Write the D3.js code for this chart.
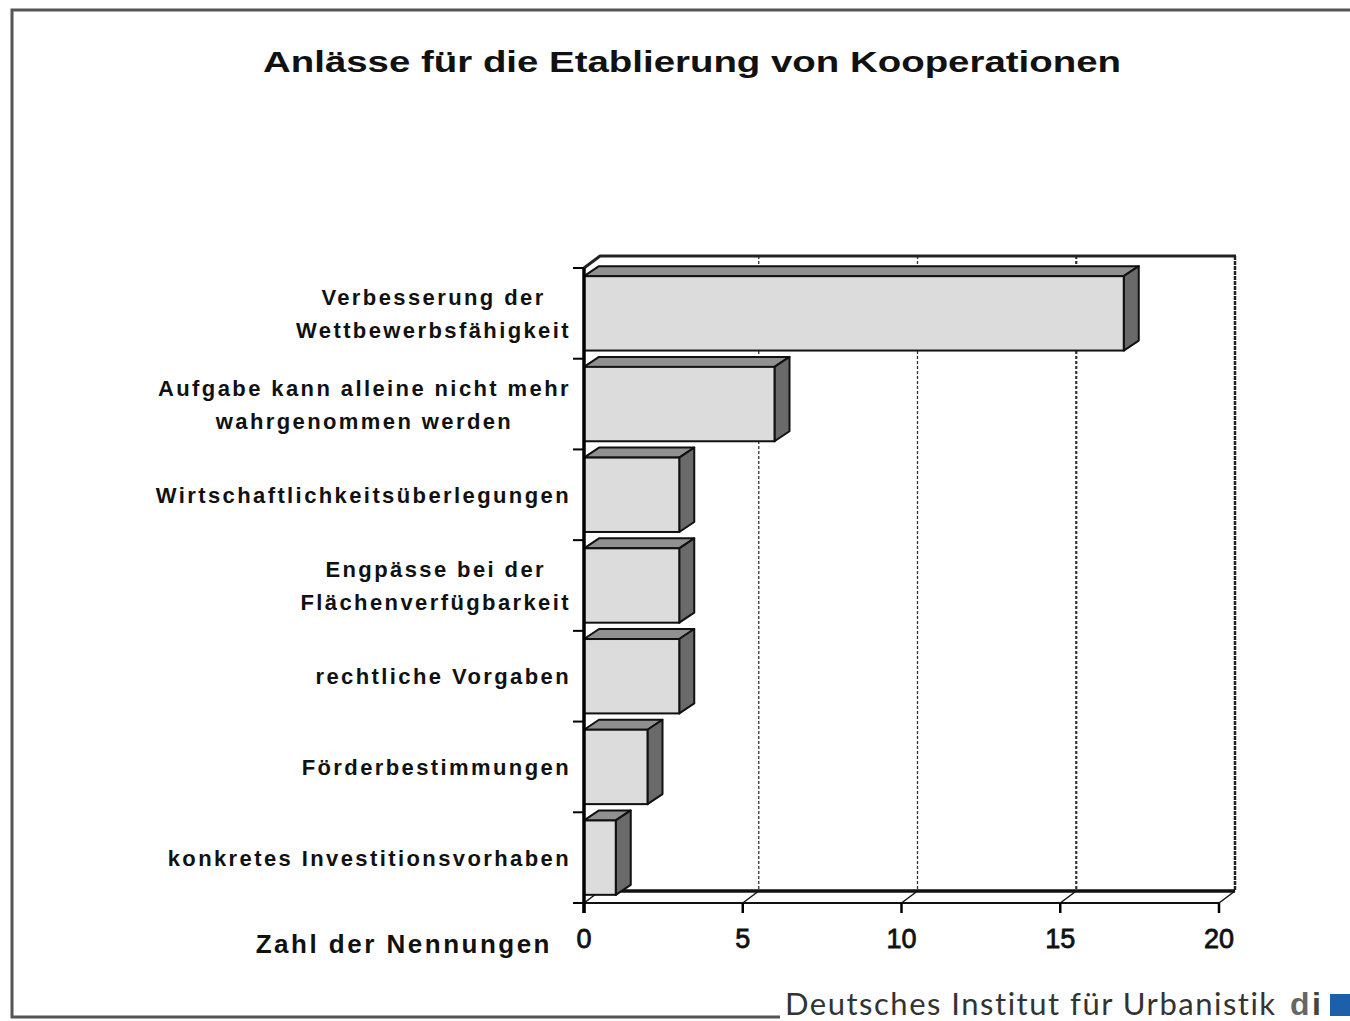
<!DOCTYPE html>
<html>
<head>
<meta charset="utf-8">
<script src="https://cdn.jsdelivr.net/npm/d3@7"></script>
<style>
  body { margin: 0; background: #fff; }
  text { font-family: "Liberation Sans", Arial, sans-serif; fill: #111; }
</style>
</head>
<body>
<svg id="chart" width="1350" height="1021"></svg>
<script>
// Daten
var categories = [
  "Verbesserung der\nWettbewerbsfähigkeit",
  "Aufgabe kann alleine nicht mehr\nwahrgenommen werden",
  "Wirtschaftlichkeitsüberlegungen",
  "Engpässe bei der\nFlächenverfügbarkeit",
  "rechtliche Vorgaben",
  "Förderbestimmungen",
  "konkretes Investitionsvorhaben"
];
var values = [17, 6, 3, 3, 3, 2, 1];
var ticks = [0, 5, 10, 15, 20];
var title = "Anlässe für die Etablierung von Kooperationen";
var axisTitle = "Zahl der Nennungen";
var source = "Deutsches Institut für Urbanistik";

var svg = d3.select("#chart");

// Rahmen
svg.append("path")
  .attr("d", "M1352,10 H12 V1017 H780")
  .attr("fill", "none")
  .attr("stroke", "#555")
  .attr("stroke-width", 3);

svg.append("text")
  .attr("x", 692).attr("y", 72)
  .attr("text-anchor", "middle")
  .attr("textLength", 858)
  .attr("lengthAdjust", "spacingAndGlyphs")
  .style("font-size", "29px")
  .style("font-weight", "bold")
  .text(title);

var x = d3.scaleLinear().domain([0, 20]).range([584, 1219]);
var y = d3.scaleBand().domain(categories).range([268, 903])
  .paddingInner(0.18).paddingOuter(0.09);

// Tiefe der Wand und der Balken
var wdx = 16, wdy = -12;
var bdx = 15, bdy = -10;
var yTop = y.range()[0], yBottom = y.range()[1];

var wall = svg.append("g");

// Gitterlinien an der Rückwand
wall.selectAll("line.grid")
  .data(ticks.filter(function(d) { return d > 0 && d < 20; }))
  .enter().append("line")
  .attr("class", "grid")
  .attr("x1", function(d) { return x(d) + wdx; })
  .attr("x2", function(d) { return x(d) + wdx; })
  .attr("y1", yTop + wdy)
  .attr("y2", yBottom + wdy)
  .attr("stroke", "#333")
  .attr("stroke-width", function(d) { return d == 15 ? 2.2 : 1.3; })
  .attr("stroke-dasharray", "3,2");

// Diagonalen am Boden
wall.selectAll("line.floor")
  .data(ticks)
  .enter().append("line")
  .attr("x1", function(d) { return x(d); })
  .attr("x2", function(d) { return x(d) + wdx; })
  .attr("y1", yBottom)
  .attr("y2", yBottom + wdy)
  .attr("stroke", "#111")
  .attr("stroke-width", 1.5);

// rechte Wandkante
wall.append("line")
  .attr("x1", x(20) + wdx).attr("x2", x(20) + wdx)
  .attr("y1", yTop + wdy).attr("y2", yBottom + wdy)
  .attr("stroke", "#222").attr("stroke-width", 2.5)
  .attr("stroke-dasharray", "4,1");

// obere Kante
wall.append("path")
  .attr("d", "M" + x(0) + "," + yTop + " L" + (x(0) + wdx) + "," + (yTop + wdy) + " H" + (x(20) + wdx + 1))
  .attr("fill", "none").attr("stroke", "#222").attr("stroke-width", 3);

// Boden hinten und vorne
wall.append("line")
  .attr("x1", x(0) + wdx).attr("x2", x(20) + wdx)
  .attr("y1", yBottom + wdy).attr("y2", yBottom + wdy)
  .attr("stroke", "#111").attr("stroke-width", 3.5);
wall.append("line")
  .attr("x1", x(0)).attr("x2", x(20))
  .attr("y1", yBottom).attr("y2", yBottom)
  .attr("stroke", "#111").attr("stroke-width", 1.8);

// Balken
var bars = svg.selectAll("g.bar")
  .data(categories)
  .enter().append("g")
  .attr("class", "bar");

bars.append("path")
  .attr("d", function(d, i) {
    var x0 = x(0), x1 = x(values[i]), y0 = y(d);
    return "M" + x0 + "," + y0 + " L" + (x0 + bdx) + "," + (y0 + bdy) +
      " H" + (x1 + bdx) + " L" + x1 + "," + y0 + "Z";
  })
  .attr("fill", "#909090").attr("stroke", "#111").attr("stroke-width", 2)
  .attr("stroke-linejoin", "round");

bars.append("path")
  .attr("d", function(d, i) {
    var x1 = x(values[i]), y0 = y(d), y1 = y(d) + y.bandwidth();
    return "M" + x1 + "," + y0 + " L" + (x1 + bdx) + "," + (y0 + bdy) +
      " V" + (y1 + bdy) + " L" + x1 + "," + y1 + "Z";
  })
  .attr("fill", "#6a6a6a").attr("stroke", "#111").attr("stroke-width", 2)
  .attr("stroke-linejoin", "round");

bars.append("rect")
  .attr("x", x(0))
  .attr("y", function(d) { return y(d); })
  .attr("width", function(d, i) { return x(values[i]) - x(0); })
  .attr("height", y.bandwidth())
  .attr("fill", "#dcdcdc").attr("stroke", "#111").attr("stroke-width", 2);

// vordere Achse
svg.append("line")
  .attr("x1", x(0)).attr("x2", x(0))
  .attr("y1", yTop).attr("y2", yBottom + 10)
  .attr("stroke", "#000").attr("stroke-width", 3.5);

var step = y.step();
svg.selectAll("line.ytick")
  .data(d3.range(categories.length + 1))
  .enter().append("line")
  .attr("x1", x(0) - 11).attr("x2", x(0))
  .attr("y1", function(i) { return yTop + i * step; })
  .attr("y2", function(i) { return yTop + i * step; })
  .attr("stroke", "#000").attr("stroke-width", 2);

svg.selectAll("line.xtick")
  .data(ticks)
  .enter().append("line")
  .attr("x1", function(d) { return x(d); })
  .attr("x2", function(d) { return x(d); })
  .attr("y1", yBottom).attr("y2", yBottom + 10)
  .attr("stroke", "#000").attr("stroke-width", 2.5);

svg.selectAll("text.xlab")
  .data(ticks)
  .enter().append("text")
  .attr("x", function(d) { return x(d); })
  .attr("y", 948)
  .attr("text-anchor", "middle")
  .style("font-size", "27px")
  .style("stroke", "#111").style("stroke-width", 0.8)
  .text(function(d) { return d; });

svg.append("text")
  .attr("x", 552).attr("y", 953)
  .attr("text-anchor", "end")
  .style("font-size", "26px")
  .style("font-weight", "bold")
  .style("letter-spacing", "2.5px")
  .text(axisTitle);

// Kategorienbeschriftung: Block rechtsbündig, Zeilen zentriert
var labelRight = 571, lineH = 33;
categories.forEach(function(c) {
  var lines = c.split("\n");
  var cy = y(c) + y.bandwidth() / 2;
  var g = svg.append("g");
  var texts = g.selectAll("text")
    .data(lines)
    .enter().append("text")
    .attr("text-anchor", "middle")
    .attr("y", function(d, j) { return cy + (j - (lines.length - 1) / 2) * lineH + 8; })
    .style("font-size", "22px")
    .style("font-weight", "bold")
    .style("letter-spacing", "2.4px")
    .text(function(d) { return d; });
  var w = d3.max(texts.nodes(), function(n) { return n.getComputedTextLength(); });
  texts.attr("x", labelRight - w / 2);
});

// Fußzeile
svg.append("text")
  .attr("x", 785).attr("y", 1015)
  .style("font-family", "Lato, 'DejaVu Sans', sans-serif")
  .style("font-size", "31px")
  .style("letter-spacing", "1.5px")
  .style("fill", "#333")
  .text(source);

svg.append("text")
  .attr("x", 1290).attr("y", 1015)
  .style("font-size", "32px")
  .style("font-weight", "bold")
  .style("fill", "#666")
  .text("d");
svg.append("text")
  .attr("x", 1312).attr("y", 1015)
  .style("font-size", "32px")
  .style("font-weight", "bold")
  .style("fill", "#444")
  .text("i");
svg.append("rect")
  .attr("x", 1330).attr("y", 994).attr("width", 20).attr("height", 22)
  .attr("fill", "#1d5fa8");
</script>
</body>
</html>
